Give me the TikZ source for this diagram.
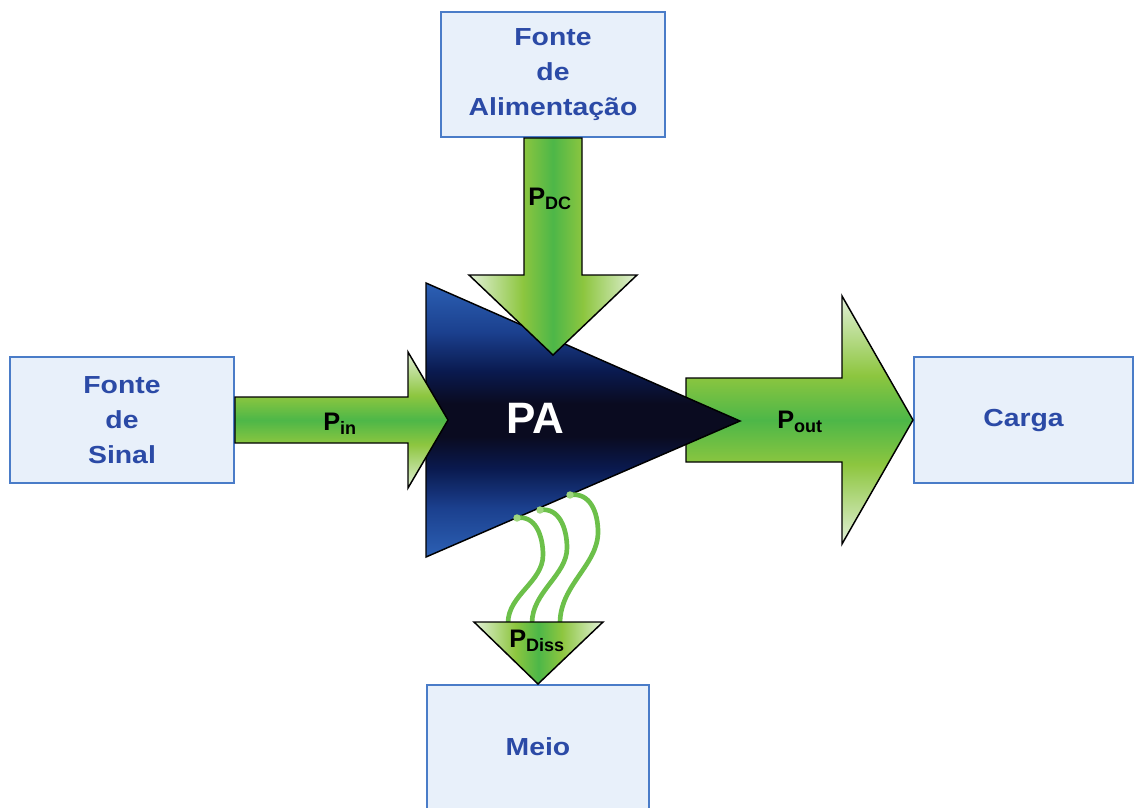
\documentclass[tikz,border=0pt]{standalone}
\usepackage{fontspec}
\setmainfont{Liberation Sans}
\newfontfamily\boxfont{Liberation Sans}[FakeStretch=1.15]
\usetikzlibrary{calc}

% palette
\definecolor{boxfill}{HTML}{E8F0FA}
\definecolor{boxline}{HTML}{4A7CC8}
\definecolor{boxtext}{HTML}{2B4AA6}
\definecolor{gdark}{HTML}{4DB748}
\definecolor{gmid}{HTML}{8DC63F}
\definecolor{glight}{HTML}{E2F0D8}
\definecolor{wave}{HTML}{6CC04A}
\definecolor{wavedot}{HTML}{9ED67E}
\definecolor{paEdge}{HTML}{2C60B4}
\definecolor{paBlue}{HTML}{1B408E}
\definecolor{paNavy}{HTML}{0A1A50}
\definecolor{paBlack}{HTML}{0A0B20}

% green power arrows: light at the borders, saturated along the axis
\pgfdeclarehorizontalshading{greenh}{100bp}{color(0bp)=(glight); color(25bp)=(glight);
  color(41bp)=(gmid); color(50bp)=(gdark); color(59bp)=(gmid); color(75bp)=(glight); color(100bp)=(glight)}
\pgfdeclareverticalshading{greenv}{100bp}{color(0bp)=(glight); color(25bp)=(glight);
  color(41bp)=(gmid); color(50bp)=(gdark); color(59bp)=(gmid); color(75bp)=(glight); color(100bp)=(glight)}
% amplifier body: blue rims, near black in the middle
\pgfdeclareverticalshading{pashade}{100bp}{color(0bp)=(paEdge); color(25bp)=(paEdge);
  color(34bp)=(paBlue); color(41bp)=(paNavy); color(47bp)=(paBlack); color(53bp)=(paBlack);
  color(59bp)=(paNavy); color(66bp)=(paBlue); color(75bp)=(paEdge); color(100bp)=(paEdge)}

\newcommand\powlabel[2]{{\fontsize{19}{19}\selectfont #1}{\fontsize{13.5}{13.5}\selectfont\raisebox{-3.5pt}{#2}}}

\tikzset{
  blockbox/.style={draw=boxline, line width=1.5pt, fill=boxfill, inner sep=0pt,
    align=center, text=boxtext, font=\boxfont\bfseries\fontsize{18.5}{26}\selectfont},
  flowarrow/.style={draw=black, line width=1.1pt, line join=miter},
  powtext/.style={inner sep=0pt, anchor=base west, font=\bfseries, text=black},
  heatline/.style={draw=wave, line width=3.5pt, line cap=round},
}

\begin{document}
\begin{tikzpicture}[x=0.75pt, y=-0.75pt]
\useasboundingbox (0,0) rectangle (1135,807);

% blocks
\node[blockbox, minimum width=168pt, minimum height=93.75pt] (alim) at (553,74.5) {Fonte\\de\\Alimentação};
\node[blockbox, minimum width=168pt, minimum height=94.5pt] (sinal) at (122,420) {Fonte\\de\\Sinal};
\node[blockbox, minimum width=164.25pt, minimum height=94.5pt] (carga) at (1023.5,420) {Carga};
\node[blockbox, minimum width=166.5pt, minimum height=93pt] (meio) at (538,747) {Meio};

% output power arrow (behind the amplifier tip)
\path[flowarrow, shading=greenv]
  ($(carga.west)+(-227,-42)$) -- ($(carga.west)+(-71,-42)$) -- ($(carga.west)+(-71,-124)$)
  -- (carga.west) -- ($(carga.west)+(-71,124)$) -- ($(carga.west)+(-71,42)$)
  -- ($(carga.west)+(-227,42)$) -- cycle;

% amplifier
\coordinate (patop) at (426,283);
\coordinate (pabot) at (426,557);
\coordinate (patip) at (740,421);
\path[draw=black, line width=1.1pt, shading=pashade] (patop) -- (patip) -- (pabot) -- cycle;
\node[text=white, font=\bfseries\fontsize{33}{33}\selectfont, inner sep=0pt] (pa) at (535,418) {PA};

% DC supply arrow
\coordinate (dctip) at (553,355);
\path[flowarrow, shading=greenh]
  ($(alim.south)+(-29,0)$) -- ($(alim.south)+(29,0)$) -- ($(alim.south)+(29,137)$)
  -- ($(alim.south)+(84,137)$) -- (dctip) -- ($(alim.south)+(-84,137)$)
  -- ($(alim.south)+(-29,137)$) -- cycle;

% input power arrow
\coordinate (intip) at (448,420);
\path[flowarrow, shading=greenv]
  ($(sinal.east)+(0,-23)$) -- ($(sinal.east)+(173,-23)$) -- ($(sinal.east)+(173,-68)$)
  -- (intip) -- ($(sinal.east)+(173,68)$) -- ($(sinal.east)+(173,23)$)
  -- ($(sinal.east)+(0,23)$) -- cycle;

% dissipated heat
\coordinate (h1) at (517,518);
\coordinate (h2) at (540,510);
\coordinate (h3) at (570,495);
\coordinate (d1) at (508,623);
\coordinate (d2) at (532,623);
\coordinate (d3) at (560,623);
\draw[heatline] (h1) .. controls (535,515) and (543,535) .. (543,555)
  .. controls (543,582) and (508,595) .. (d1);
\draw[heatline] (h2) .. controls (559,507) and (567,528) .. (567,548)
  .. controls (567,575) and (532,592) .. (d2);
\draw[heatline] (h3) .. controls (590,492) and (598,512) .. (598,532)
  .. controls (598,565) and (560,585) .. (d3);
\foreach \h in {h1,h2,h3} \fill[wavedot] (\h) circle (2.8pt);

\path[flowarrow, shading=greenh]
  ($(meio.north)+(-64,-62)$) -- ($(meio.north)+(65,-62)$) -- (meio.north) -- cycle;

% power labels
\node[powtext] (lin) at (323,430) {\powlabel{P}{in}};
\node[powtext] (lout) at (777,428) {\powlabel{P}{out}};
\node[powtext] (ldc) at (528,205) {\powlabel{P}{DC}};
\node[powtext] (ldiss) at (509,647) {\powlabel{P}{Diss}};
\end{tikzpicture}
\end{document}
